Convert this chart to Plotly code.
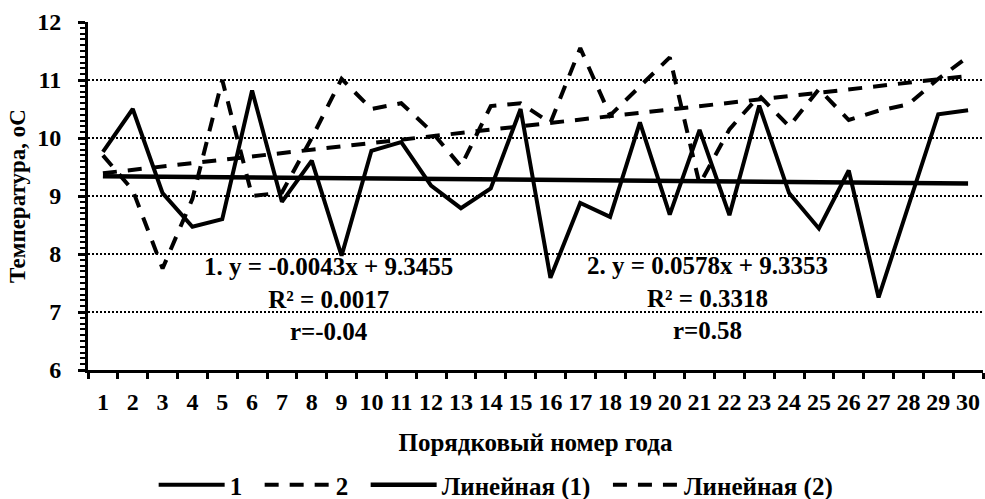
import plotly.graph_objects as go

# ---- data ----
years = list(range(1, 31))
year_labels = [str(v) for v in years]
series1 = [9.76, 10.50, 9.05, 8.47, 8.60, 10.82, 8.90, 9.61, 7.97, 9.78,
           9.93, 9.18, 8.79, 9.13, 10.50, 7.59, 8.88, 8.64, 10.27, 8.68,
           10.14, 8.67, 10.56, 9.05, 8.44, 9.44, 7.25, 8.85, 10.41, 10.48]
series2 = [9.70, 9.10, 7.75, 8.95, 11.00, 9.00, 9.06, 10.00, 11.02, 10.50,
           10.60, 10.12, 9.51, 10.55, 10.60, 10.26, 11.55, 10.39, 10.89, 11.39,
           9.20, 10.15, 10.73, 10.20, 10.84, 10.31, 10.47, 10.58, 11.02, 11.40]
trend1_slope, trend1_intercept = -0.0043, 9.3455
trend2_slope, trend2_intercept = 0.0578, 9.3353
series_names = ["1", "2", "Линейная (1)", "Линейная (2)"]
eq1_text = "1. y = -0.0043x + 9.3455<br>R² = 0.0017<br>r=-0.04"
eq2_text = "2. y = 0.0578x + 9.3353<br>R² = 0.3318<br>r=0.58"
y_range = [6, 12]

trend1 = [trend1_slope * x + trend1_intercept for x in years]
trend2 = [trend2_slope * x + trend2_intercept for x in years]

FONT = "Liberation Serif"
DASH = "14px,11px"
PAD = "\u00a0\u00a0"  # extra space after legend labels


def bold(size):
    return dict(family=FONT, size=size, color="black", weight="bold")


fig = go.Figure()
fig.add_trace(go.Scatter(x=years, y=series1, name=series_names[0] + PAD, mode="lines",
                         line=dict(color="black", width=4)))
fig.add_trace(go.Scatter(x=years, y=series2, name=series_names[1] + PAD, mode="lines",
                         line=dict(color="black", width=4, dash=DASH)))
# trend lines share the identical scale, drawn on an overlaid axis that carries the tick comb
fig.add_trace(go.Scatter(x=years, y=trend1, name=series_names[2] + PAD, mode="lines",
                         yaxis="y2", line=dict(color="black", width=4.5)))
fig.add_trace(go.Scatter(x=years, y=trend2, name=series_names[3], mode="lines",
                         yaxis="y2", line=dict(color="black", width=4, dash=DASH)))

fig.add_annotation(x=8.55, y=7.22, xref="x", yref="y", text=eq1_text, showarrow=False,
                   yanchor="middle", xanchor="center", font=bold(25))
fig.add_annotation(x=21.25, y=7.24, xref="x", yref="y", text=eq2_text, showarrow=False,
                   yanchor="middle", xanchor="center", font=bold(25))

fig.update_layout(
    width=985, height=499,
    margin=dict(l=88, r=2, t=22, b=129),
    plot_bgcolor="white", paper_bgcolor="white",
    font=bold(24),
    showlegend=True,
    legend=dict(orientation="h", xref="container", yref="container",
                x=0.156, y=0.028, xanchor="left", yanchor="middle",
                font=bold(25), itemwidth=66, bgcolor="rgba(0,0,0,0)"),
    yaxis=dict(
        range=y_range, tickmode="linear", tick0=6, dtick=1,
        ticks="outside", ticklen=7, tickwidth=3, tickcolor="black",
        ticksuffix="\u00a0\u00a0",
        tickfont=bold(24),
        showline=True, linecolor="black", linewidth=3, zeroline=False,
        showgrid=True, gridcolor="black", gridwidth=1.5, griddash="2px,2px",
        title=dict(text="Температура, оС", standoff=6, font=bold(23)),
    ),
    yaxis2=dict(
        overlaying="y", side="left", anchor="x", range=y_range,
        tickmode="linear", tick0=6, dtick=1,
        ticks="outside", ticklen=7, tickwidth=3, tickcolor="black",
        showticklabels=False, showline=True, linecolor="black", linewidth=3,
        zeroline=False, showgrid=False,
        minor=dict(dtick=0.1, ticks="outside", ticklen=5, tickwidth=2, tickcolor="black"),
    ),
)

fig.update_xaxes(
    range=[0.5, 30.5], tickmode="array", tickvals=years, ticktext=year_labels,
    ticks="outside", ticklen=5, tickcolor="rgba(0,0,0,0)", ticklabelstandoff=3,
    tickfont=bold(24),
    showline=True, linecolor="black", linewidth=3, showgrid=False, zeroline=False,
    minor=dict(tickmode="array", tickvals=[v - 0.5 for v in years] + [30.5],
               ticks="outside", ticklen=6, tickwidth=3, tickcolor="black", showgrid=False),
    title=dict(text="Порядковый номер года", standoff=20, font=bold(25)),
)

fig.write_html("out.html")
